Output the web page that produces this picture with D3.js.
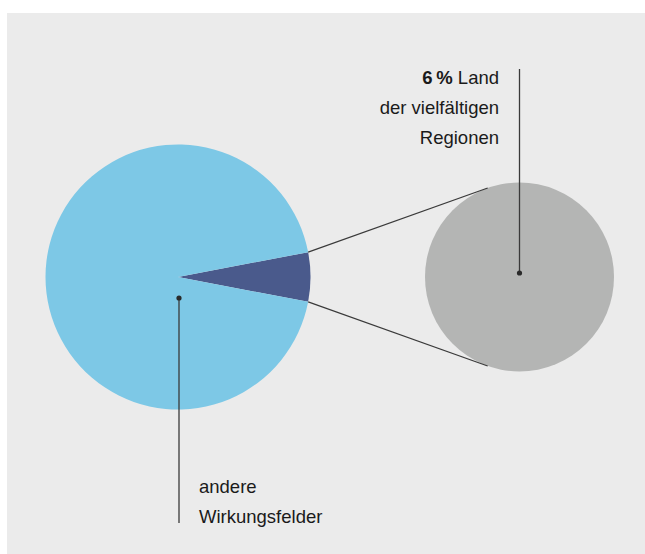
<!DOCTYPE html>
<html>
<head>
<meta charset="utf-8">
<script src="https://cdn.jsdelivr.net/npm/d3@7"></script>
<style>
  body { margin: 0; background: #fff; }
  svg { display: block; }
  text { font-family: "Liberation Sans", Arial, sans-serif; font-size: 18.5px; fill: #1a1a1a; }
</style>
</head>
<body>
<svg id="chart"></svg>
<script>
// shares in percent
const categories = ["Land der vielfältigen Regionen", "andere Wirkungsfelder"];
const values = [6, 94];
const colors = ["#4a5a8c", "#7dc8e6"];

const labelSmall = [["6\u202F%", " Land"], ["", "der vielfältigen"], ["", "Regionen"]];
const labelBig = ["andere", "Wirkungsfelder"];

const svgWidth = 645, svgHeight = 554;
const svg = d3.select('#chart')
    .attr("width", svgWidth)
    .attr("height", svgHeight);

svg.append("rect")
    .attr("x", 7).attr("y", 13)
    .attr("width", svgWidth - 7).attr("height", svgHeight - 13)
    .attr("fill", "#ebebeb");

let cx = 178, cy = 277, r = 132.5;
let cx2 = 519.5, cy2 = 277, r2 = 94.5;

// small slice centred on the right side
let share = values[0] / d3.sum(values);
let start = Math.PI / 2 - share * Math.PI;
let pie = d3.pie().sort(null).startAngle(start).endAngle(start + 2 * Math.PI);
let arcs = pie(values);
let arc = d3.arc().innerRadius(0).outerRadius(r);

let g = svg.append("g").attr("transform", "translate(" + cx + "," + cy + ")");
g.selectAll("path")
    .data(arcs)
    .enter().append("path")
    .attr("d", arc)
    .attr("fill", (d, i) => colors[i]);

// detail circle
svg.append("circle")
    .attr("cx", cx2).attr("cy", cy2).attr("r", r2)
    .attr("fill", "#b4b5b4");

// tangent lines from slice edges to detail circle
const tangent = (px, py, side) => {
    let dx = px - cx2, dy = py - cy2;
    let d = Math.sqrt(dx * dx + dy * dy);
    let a = Math.atan2(dy, dx);
    let b = Math.acos(r2 / d);
    let t = a + side * b;
    return [cx2 + r2 * Math.cos(t), cy2 + r2 * Math.sin(t)];
}
let s = arcs[0];
[[s.startAngle, 1], [s.endAngle, -1]].forEach(([ang, side]) => {
    let px = cx + r * Math.sin(ang), py = cy - r * Math.cos(ang);
    let t = tangent(px, py, side);
    svg.append("line")
        .attr("x1", px).attr("y1", py)
        .attr("x2", t[0]).attr("y2", t[1])
        .attr("stroke", "#3a3a3a").attr("stroke-width", 1.2);
});

// leader for the small share
svg.append("line")
    .attr("x1", cx2).attr("x2", cx2)
    .attr("y1", 69).attr("y2", 273)
    .attr("stroke", "#3a3a3a").attr("stroke-width", 1.3);
svg.append("circle").attr("cx", cx2).attr("cy", 273).attr("r", 2.6).attr("fill", "#2a2a2a");

labelSmall.forEach((l, i) => {
    let t = svg.append("text")
        .attr("x", 499).attr("y", 84 + i * 30)
        .attr("text-anchor", "end");
    if (l[0]) t.append("tspan").attr("font-weight", "bold").text(l[0]);
    t.append("tspan").text(l[1]);
});

// leader for the big share
svg.append("line")
    .attr("x1", 179).attr("x2", 179)
    .attr("y1", 298).attr("y2", 523)
    .attr("stroke", "#3a3a3a").attr("stroke-width", 1.3);
svg.append("circle").attr("cx", 179).attr("cy", 298).attr("r", 2.6).attr("fill", "#2a2a2a");

labelBig.forEach((l, i) => {
    svg.append("text")
        .attr("x", 199).attr("y", 493 + i * 30)
        .text(l);
});
</script>
</body>
</html>
